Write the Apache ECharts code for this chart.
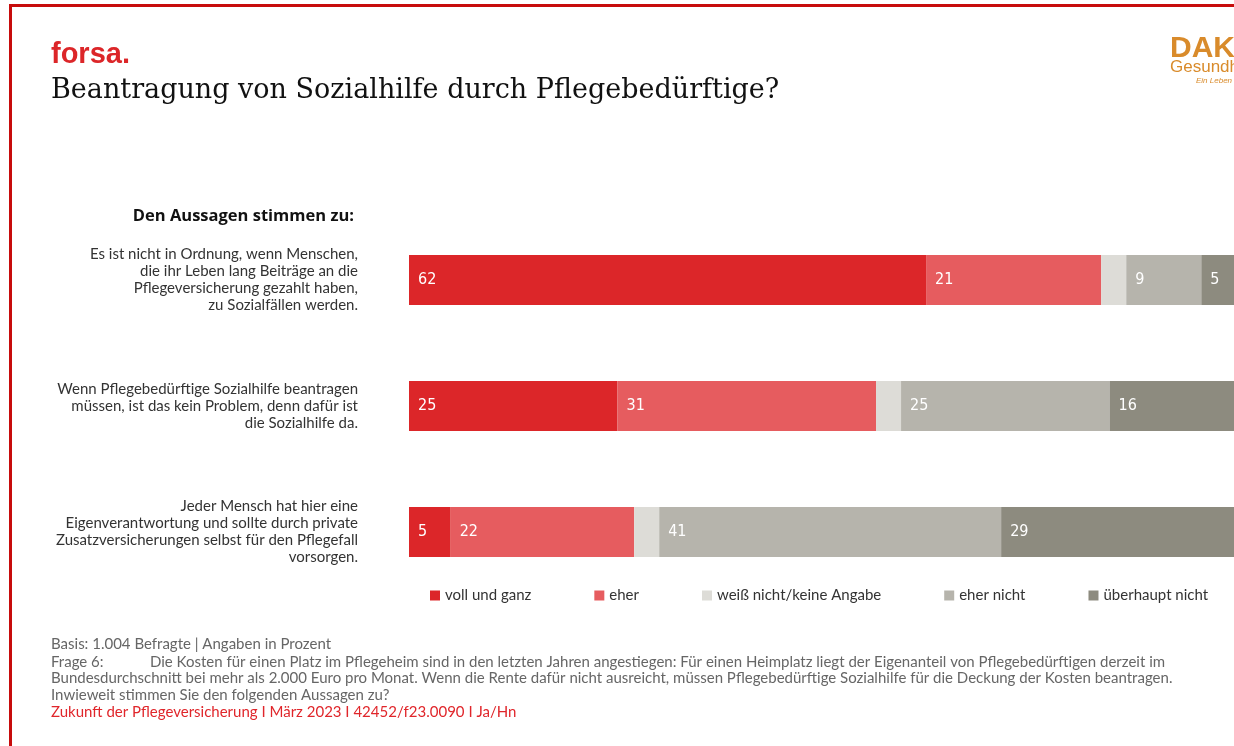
<!DOCTYPE html>
<html>
<head>
<meta charset="utf-8">
<script src="https://cdn.jsdelivr.net/npm/echarts@6/dist/echarts.min.js"></script>
<style>
html,body{margin:0;padding:0;background:#fff;}
#chart{width:1234px;height:746px;}
</style>
</head>
<body>
<div id="chart"></div>
<script>
const categories = [
  'Es ist nicht in Ordnung, wenn Menschen,\ndie ihr Leben lang Beiträge an die\nPflegeversicherung gezahlt haben,\nzu Sozialfällen werden.',
  'Wenn Pflegebedürftige Sozialhilfe beantragen\nmüssen, ist das kein Problem, denn dafür ist\ndie Sozialhilfe da.',
  'Jeder Mensch hat hier eine\nEigenverantwortung und sollte durch private\nZusatzversicherungen selbst für den Pflegefall\nvorsorgen.'
];
const seriesNames = ['voll und ganz', 'eher', 'weiß nicht/keine Angabe', 'eher nicht', 'überhaupt nicht'];
const vollUndGanz = [62, 25, 5];
const eher = [21, 31, 22];
const weissNicht = [3, 3, 3];
const eherNicht = [9, 25, 41];
const ueberhauptNicht = [5, 16, 29];
const colors = ['#dc2629', '#e65c5f', '#dddcd7', '#b6b4ac', '#8d8b7f'];

const values = [vollUndGanz, eher, weissNicht, eherNicht, ueberhauptNicht];
const sansFont = 'Lato, "Open Sans", sans-serif';
const narrowFont = '"Liberation Sans Narrow", "DejaVu Sans Condensed", sans-serif';

const chart = echarts.init(document.getElementById('chart'), null, {renderer: 'canvas'});
const series = values.map((v, i) => ({
  name: seriesNames[i],
  type: 'bar',
  stack: 'total',
  barWidth: 50,
  data: v,
  itemStyle: {color: colors[i]},
  label: {
    show: i !== 2,
    position: 'insideLeft',
    distance: 9,
    color: '#fff',
    fontSize: 16,
    fontFamily: narrowFont
  },
  emphasis: {disabled: true}
}));

chart.setOption({
  animation: false,
  backgroundColor: '#fff',
  grid: {left: 409, top: 217, width: 834, height: 378, outerBoundsMode: 'none', containLabel: false},
  xAxis: {type: 'value', min: 0, max: 100, show: false},
  yAxis: {
    type: 'category',
    data: categories,
    inverse: true,
    axisLine: {show: false},
    axisTick: {show: false},
    axisLabel: {
      margin: 51,
      align: 'right',
      color: '#333',
      fontSize: 15,
      lineHeight: 17,
      fontFamily: sansFont
    }
  },
  legend: {
    data: seriesNames,
    left: 425,
    top: 583,
    icon: 'rect',
    itemWidth: 10,
    itemHeight: 10,
    itemGap: 63,
    textStyle: {color: '#333', fontSize: 15, fontFamily: sansFont}
  },
  series: series,
  graphic: [
    {type: 'rect', shape: {x: 9, y: 4, width: 1225, height: 3}, style: {fill: '#c70c0c'}},
    {type: 'rect', shape: {x: 9, y: 4, width: 3, height: 742}, style: {fill: '#c70c0c'}},
    {type: 'text', left: 51, top: 40, style: {text: 'forsa.', fill: '#dc2629', font: 'bold 29px "Liberation Sans", Arial, sans-serif'}},
    {type: 'text', left: 51, top: 77, style: {text: 'Beantragung von Sozialhilfe durch Pflegebedürftige?', fill: '#111', font: '27px "DejaVu Serif", serif'}},
    {type: 'text', left: 1170, top: 34, style: {text: 'DAK', fill: '#d98b2b', font: 'bold 30px "Liberation Sans", Arial, sans-serif'}},
    {type: 'text', left: 1170, top: 59, style: {text: 'Gesundheit', fill: '#d98b2b', font: '17px "Liberation Sans Narrow", "Liberation Sans", sans-serif'}},
    {type: 'text', left: 1196, top: 77, style: {text: 'Ein Leben lang.', fill: '#d98b2b', font: 'italic 8px "Liberation Sans", sans-serif'}},
    {type: 'text', right: 880, top: 208, style: {text: 'Den Aussagen stimmen zu:', fill: '#111', font: 'bold 16.5px "Open Sans", sans-serif', align: 'right'}},
    {type: 'text', left: 51, top: 637, style: {text: 'Basis: 1.004 Befragte | Angaben in Prozent', fill: '#666', font: '15px ' + sansFont}},
    {type: 'text', left: 51, top: 655, style: {text: 'Frage 6:', fill: '#666', font: '15px ' + sansFont}},
    {type: 'text', left: 150, top: 655, style: {text: 'Die Kosten für einen Platz im Pflegeheim sind in den letzten Jahren angestiegen: Für einen Heimplatz liegt der Eigenanteil von Pflegebedürftigen derzeit im', fill: '#666', font: '15px ' + sansFont}},
    {type: 'text', left: 51, top: 671, style: {text: 'Bundesdurchschnitt bei mehr als 2.000 Euro pro Monat. Wenn die Rente dafür nicht ausreicht, müssen Pflegebedürftige Sozialhilfe für die Deckung der Kosten beantragen.', fill: '#666', font: '15px ' + sansFont}},
    {type: 'text', left: 51, top: 688, style: {text: 'Inwieweit stimmen Sie den folgenden Aussagen zu?', fill: '#666', font: '15px ' + sansFont}},
    {type: 'text', left: 51, top: 705, style: {text: 'Zukunft der Pflegeversicherung I März 2023 I 42452/f23.0090 I Ja/Hn', fill: '#e0262b', font: '15px ' + sansFont}}
  ]
});
</script>
</body>
</html>
